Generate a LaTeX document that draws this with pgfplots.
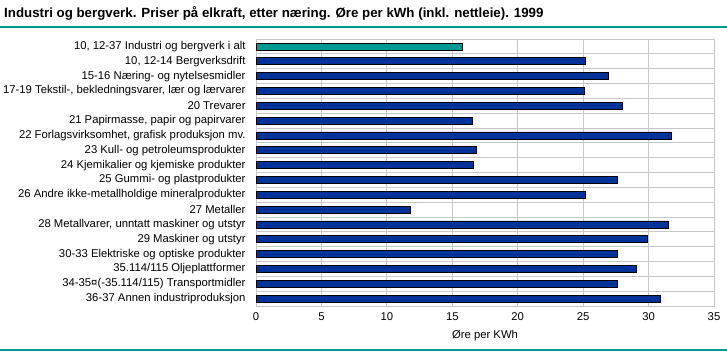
\documentclass[border=0pt]{standalone}
\usepackage{fontspec}
\setmainfont{Liberation Sans}
\usepackage{pgfplots}
\pgfplotsset{compat=1.18}
\definecolor{barblue}{HTML}{003399}
\definecolor{barteal}{HTML}{009A93}
\definecolor{gridgray}{HTML}{C8C8C8}
\begin{document}
\begin{tikzpicture}[x=1pt,y=1pt]
\path[use as bounding box] (0,0) rectangle (727,351);
\draw[barteal, line width=1.3pt] (0,324) -- (727,324);
\draw[barteal, line width=1.3pt] (0,1) -- (727,1);
\node[anchor=base west, font=\fontsize{13.3}{15}\selectfont\bfseries, inner sep=0pt] at (4,333) {Industri og bergverk. Priser på elkraft, etter næring. Øre per kWh (inkl. nettleie). 1999};
\begin{axis}[
  at={(256pt,45pt)}, anchor=south west, scale only axis,
  width=458pt, height=267pt,
  xmin=0, xmax=35, ymin=-0.5, ymax=17.5, y dir=reverse,
  xbar, bar width=7pt, bar shift=0pt,
  xtick={0,5,...,35},
  ytick={0,...,17},
  yticklabels={
    {10, 12-37 Industri og bergverk i alt},
    {10, 12-14 Bergverksdrift},
    {15-16 Næring- og nytelsesmidler},
    {17-19 Tekstil-, bekledningsvarer, lær og lærvarer},
    {20 Trevarer},
    {21 Papirmasse, papir og papirvarer},
    {22 Forlagsvirksomhet, grafisk produksjon mv.},
    {23 Kull- og petroleumsprodukter},
    {24 Kjemikalier og kjemiske produkter},
    {25 Gummi- og plastprodukter},
    {26 Andre ikke-metallholdige mineralprodukter},
    {27 Metaller},
    {28 Metallvarer, unntatt maskiner og utstyr},
    {29 Maskiner og utstyr},
    {30-33 Elektriske og optiske produkter},
    {35.114/115 Oljeplattformer},
    {34-35¤(-35.114/115) Transportmidler},
    {36-37 Annen industriproduksjon}},
  minor ytick={0.5,1.5,...,16.5},
  xmajorgrids, yminorgrids,
  grid style={gridgray, line width=0.8pt},
  minor grid style={gridgray, line width=0.8pt},
  axis line style={gridgray, line width=0.8pt},
  tick style={draw=none},
  /pgf/number format/assume math mode=true,
  yticklabel style={font=\fontsize{11.3}{13}\selectfont, inner sep=0pt, anchor=east, xshift=-6pt},
  xticklabel style={font=\fontsize{11.3}{13}\selectfont, inner sep=0pt, anchor=center, yshift=-11pt},
  xlabel={Øre per KWh},
  xlabel style={font=\fontsize{11.3}{13}\selectfont, at={(axis description cs:0.5,0)}, anchor=center, yshift=-30pt, inner sep=0pt},
]
\addplot[fill=barteal, draw=black, line width=0.6pt] coordinates {(15.8,0)};
\addplot[fill=barblue, draw=black, line width=0.6pt] coordinates {
(25.2,1) (26.9,2) (25.1,3) (28.0,4) (16.5,5) (31.7,6) (16.8,7) (16.6,8)
(27.6,9) (25.2,10) (11.8,11) (31.5,12) (29.9,13) (27.6,14) (29.1,15) (27.6,16) (30.9,17)};
\end{axis}
\end{tikzpicture}
\end{document}
